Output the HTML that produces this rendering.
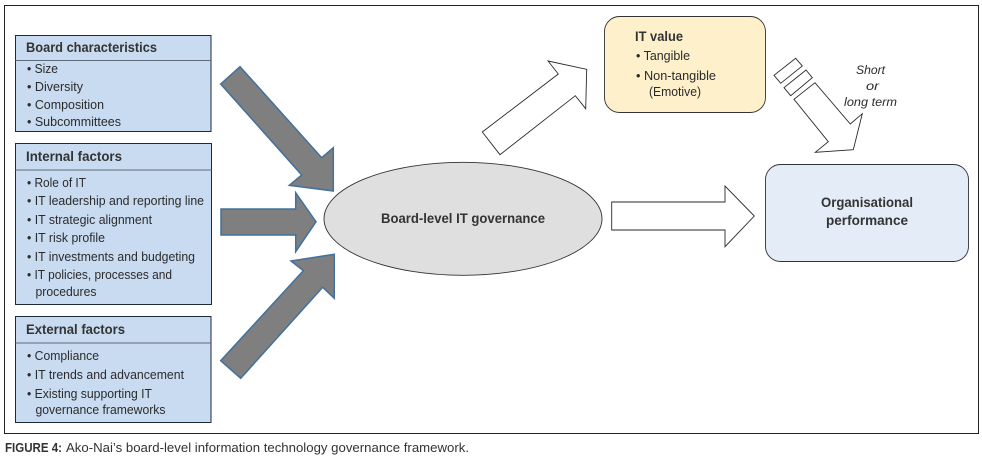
<!DOCTYPE html>
<html><head><meta charset="utf-8"><style>
html,body{margin:0;padding:0;background:#fff;width:982px;height:462px;overflow:hidden}
svg{display:block;filter:blur(0.3px)}
text{font-family:"Liberation Sans",sans-serif;fill:#2b2b2b;font-size:12.5px}
.h{font-weight:bold;font-size:13.5px;fill:#333}
.i{font-style:italic;font-size:12px}
</style></head><body>
<svg width="982" height="462" viewBox="0 0 982 462" xmlns="http://www.w3.org/2000/svg">
<rect width="982" height="462" fill="#fff"/>
<rect x="4.5" y="5.5" width="974" height="428" fill="none" stroke="#222" stroke-width="1"/>

<!-- left boxes -->
<g fill="#c9dbf1" stroke="#1f2a38" stroke-width="1">
<rect x="15.5" y="35.5" width="195.500" height="96"/>
<rect x="15.5" y="143.500" width="196" height="161"/>
<rect x="15.5" y="316.500" width="195.500" height="106"/>
</g>
<g stroke="#5f6b78" stroke-width="1">
<line x1="15.500" y1="60.500" x2="211" y2="60.500"/>
<line x1="15.500" y1="170" x2="211.500" y2="170"/>
<line x1="15.500" y1="343" x2="211" y2="343"/>
</g>

<text class="h" x="26" y="52" textLength="131" lengthAdjust="spacingAndGlyphs">Board characteristics</text>
<text x="27" y="73" textLength="31" lengthAdjust="spacingAndGlyphs">• Size</text>
<text x="27" y="91" textLength="56" lengthAdjust="spacingAndGlyphs">• Diversity</text>
<text x="27" y="109" textLength="77" lengthAdjust="spacingAndGlyphs">• Composition</text>
<text x="27" y="126" textLength="94" lengthAdjust="spacingAndGlyphs">• Subcommittees</text>

<text class="h" x="26" y="161" textLength="96" lengthAdjust="spacingAndGlyphs">Internal factors</text>
<text x="27" y="187" textLength="59" lengthAdjust="spacingAndGlyphs">• Role of IT</text>
<text x="27" y="205" textLength="177" lengthAdjust="spacingAndGlyphs">• IT leadership and reporting line</text>
<text x="27" y="224" textLength="125" lengthAdjust="spacingAndGlyphs">• IT strategic alignment</text>
<text x="27" y="242" textLength="78" lengthAdjust="spacingAndGlyphs">• IT risk profile</text>
<text x="27" y="261" textLength="168" lengthAdjust="spacingAndGlyphs">• IT investments and budgeting</text>
<text x="27" y="279" textLength="145" lengthAdjust="spacingAndGlyphs">• IT policies, processes and</text>
<text x="35.500" y="296" textLength="61" lengthAdjust="spacingAndGlyphs">procedures</text>

<text class="h" x="26" y="334" textLength="99" lengthAdjust="spacingAndGlyphs">External factors</text>
<text x="27" y="360" textLength="72" lengthAdjust="spacingAndGlyphs">• Compliance</text>
<text x="27" y="379" textLength="157" lengthAdjust="spacingAndGlyphs">• IT trends and advancement</text>
<text x="27" y="398" textLength="125" lengthAdjust="spacingAndGlyphs">• Existing supporting IT</text>
<text x="35.500" y="414" textLength="130" lengthAdjust="spacingAndGlyphs">governance frameworks</text>

<!-- grey arrows -->
<g fill="#7f7f7f" stroke="#41719c" stroke-width="1.500" stroke-linejoin="miter">
<polygon points="240,66.700 220.700,84 301.700,175 289.300,185.300 333.300,191 333.300,147.700 321.700,157.700"/>
<polygon points="221,209 295.700,209 295.700,192.700 316,221.700 295.700,251.700 295.700,235 221,235"/>
<polygon points="220.700,360.700 240.700,378.300 322.700,287.300 334.300,298.300 334.300,254.300 291,261 303.300,270.700"/>
</g>

<!-- ellipse -->
<ellipse cx="463" cy="218.800" rx="139" ry="56.500" fill="#e0dfe0" stroke="#333" stroke-width="0.900"/>
<text class="h" x="381" y="223" textLength="164" lengthAdjust="spacingAndGlyphs">Board-level IT governance</text>

<!-- white arrows -->
<g fill="#fff" stroke="#2a2a2a" stroke-width="0.900">
<polygon points="482.300,132 500,154.700 575.300,95.700 585.700,108.700 586.700,69.300 548,61 558.300,74"/>
<polygon points="611.700,202 725,202 725,186 754.300,216 725,246.700 725,230 611.700,230"/>
<polygon points="815,82.700 794,99.300 828.300,141.700 815.300,152.300 853.300,149.700 862.300,113.700 850.300,124"/>
<polygon points="795.700,58.300 802.300,66 780.700,83.300 774,75.300"/>
<polygon points="806,70 812.300,77.700 790.700,95.700 784,87.700"/>
</g>

<!-- IT value -->
<rect x="604.500" y="16.500" width="161" height="96" rx="15" fill="#fdf0cb" stroke="#333" stroke-width="0.900"/>
<text class="h" x="635" y="41" textLength="48" lengthAdjust="spacingAndGlyphs">IT value</text>
<text x="636" y="60" textLength="54" lengthAdjust="spacingAndGlyphs">• Tangible</text>
<text x="636" y="80" textLength="80" lengthAdjust="spacingAndGlyphs">• Non-tangible</text>
<text x="649" y="96" textLength="52" lengthAdjust="spacingAndGlyphs">(Emotive)</text>

<text class="i" x="856" y="74" textLength="29" lengthAdjust="spacingAndGlyphs">Short</text>
<text class="i" x="866" y="90" textLength="13" lengthAdjust="spacingAndGlyphs">or</text>
<text class="i" x="844" y="106" textLength="53" lengthAdjust="spacingAndGlyphs">long term</text>

<!-- Org performance -->
<rect x="765.500" y="164.500" width="203" height="97" rx="15" fill="#e4ecf8" stroke="#333" stroke-width="0.900"/>
<text class="h" x="821" y="207" textLength="92" lengthAdjust="spacingAndGlyphs">Organisational</text>
<text class="h" x="826" y="225" textLength="82" lengthAdjust="spacingAndGlyphs">performance</text>

<!-- caption -->
<text x="5" y="452" font-weight="bold" textLength="57" lengthAdjust="spacingAndGlyphs" style="font-size:12.5px;fill:#333">FIGURE 4:</text>
<text x="66" y="452" textLength="403" lengthAdjust="spacingAndGlyphs" style="font-size:12.5px;fill:#333">Ako-Nai’s board-level information technology governance framework.</text>
</svg>
</body></html>
